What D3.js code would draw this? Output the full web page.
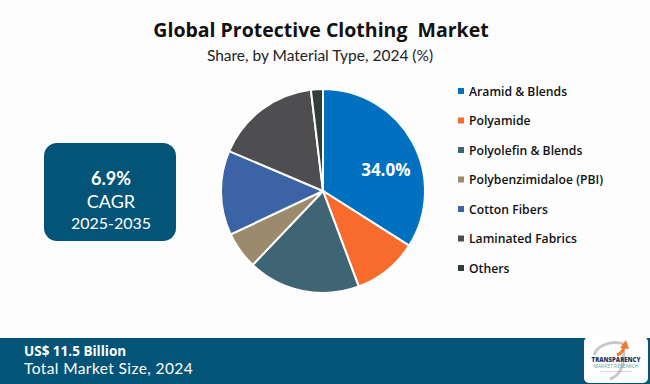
<!DOCTYPE html>
<html>
<head>
<meta charset="utf-8">
<script src="https://cdn.jsdelivr.net/npm/d3@7"></script>
<style>
  body { margin: 0; background: #fdfdfd; }
  svg { display: block; }
</style>
</head>
<body>
<div id="chart"></div>
<script>
// Material types and their 2024 share (%)
var categories = ["Aramid & Blends", "Polyamide", "Polyolefin & Blends", "Polybenzimidaloe (PBI)",
  "Cotton Fibers", "Laminated Fabrics", "Others"];
var shares = [34.0, 10.3, 17.8, 5.9, 13.4, 16.7, 1.9];
var colors = ["#0071c1", "#f86b2c", "#3f6474", "#9b8b6c", "#3c63a6", "#4e4e50", "#343e39"];

var title = "Global Protective Clothing\u00a0 Market";
var subtitle = "Share, by Material Type, 2024  (%)";
var cagrLines = ["6.9%", "CAGR", "2025-2035"];
var footerLines = ["US$ 11.5 Billion", "Total Market Size, 2024"];

var width = 650, height = 384;

var svg = d3.select("#chart").append("svg")
  .attr("width", width)
  .attr("height", height);

svg.append("rect")
  .attr("width", width)
  .attr("height", height)
  .attr("fill", "#fdfdfd");

// Titles
svg.append("text")
  .attr("x", 321)
  .attr("y", 37)
  .attr("text-anchor", "middle")
  .style("font-family", "'Open Sans', sans-serif")
  .style("font-weight", "700")
  .style("font-size", "19.5px")
  .attr("fill", "#111")
  .text(title);

svg.append("text")
  .attr("x", 320)
  .attr("y", 61)
  .attr("text-anchor", "middle")
  .style("font-family", "Lato, sans-serif")
  .style("font-size", "15.5px")
  .attr("fill", "#222")
  .text(subtitle);

// Pie
var cx = 323, cy = 191, radius = 102;

var pieData = categories.map(function(c, i) {
  return { name: c, value: shares[i], color: colors[i] };
});

var pie = d3.pie()
  .sort(null)
  .value(function(d) { return d.value; });

var arc = d3.arc()
  .innerRadius(0)
  .outerRadius(radius);

var labelArc = d3.arc()
  .innerRadius(66)
  .outerRadius(66);

var pieGroup = svg.append("g")
  .attr("transform", "translate(" + cx + "," + cy + ")");

var arcs = pie(pieData);

pieGroup.selectAll("path")
  .data(arcs)
  .enter()
  .append("path")
  .attr("d", arc)
  .attr("fill", function(d) { return d.data.color; })
  .attr("stroke", "#fff")
  .attr("stroke-width", 2);

// Only the largest slice gets a label
pieGroup.selectAll(".slice-label")
  .data(arcs.filter(function(d) { return d.data.value >= 30; }))
  .enter()
  .append("text")
  .attr("class", "slice-label")
  .attr("transform", function(d) {
    var c = labelArc.centroid(d);
    return "translate(" + (c[0] + 5) + "," + (c[1] + 17) + ")";
  })
  .attr("text-anchor", "middle")
  .style("font-family", "'Open Sans', sans-serif")
  .style("font-weight", "700")
  .style("font-size", "17px")
  .attr("fill", "#fff")
  .text(function(d) { return d.data.value.toFixed(1) + "%"; });

// Legend
var legend = svg.append("g")
  .attr("transform", "translate(458,0)");

var legendY = d3.scalePoint()
  .domain(categories)
  .range([91, 268]);

var rows = legend.selectAll(".legend-row")
  .data(pieData)
  .enter()
  .append("g")
  .attr("class", "legend-row")
  .attr("transform", function(d) { return "translate(0," + legendY(d.name) + ")"; });

rows.append("rect")
  .attr("x", 0)
  .attr("y", -3)
  .attr("width", 6)
  .attr("height", 6)
  .attr("fill", function(d) { return d.color; });

rows.append("text")
  .attr("x", 11)
  .attr("y", 4.5)
  .style("font-family", "'Open Sans', sans-serif")
  .style("font-weight", "600")
  .style("font-size", "12.2px")
  .attr("fill", "#111")
  .text(function(d) { return d.name; });

// CAGR box
svg.append("rect")
  .attr("x", 44)
  .attr("y", 143)
  .attr("width", 132)
  .attr("height", 98)
  .attr("rx", 13)
  .attr("fill", "#045477");

var cagrY = [185, 208, 229];
var cagrSize = [18, 18, 16];
svg.selectAll(".cagr")
  .data(cagrLines)
  .enter()
  .append("text")
  .attr("class", "cagr")
  .attr("x", 111)
  .attr("y", function(d, i) { return cagrY[i]; })
  .attr("text-anchor", "middle")
  .style("font-family", "Lato, sans-serif")
  .style("font-weight", function(d, i) { return i === 0 ? "700" : "400"; })
  .style("font-size", function(d, i) { return cagrSize[i] + "px"; })
  .attr("fill", "#fff")
  .text(function(d) { return d; });

// Footer band
svg.append("rect")
  .attr("x", 0)
  .attr("y", 338)
  .attr("width", width)
  .attr("height", height - 338)
  .attr("fill", "#045477");

svg.append("text")
  .attr("x", 24)
  .attr("y", 356)
  .style("font-family", "'Open Sans', sans-serif")
  .style("font-weight", "700")
  .style("font-size", "13.5px")
  .attr("fill", "#fff")
  .text(footerLines[0]);

svg.append("text")
  .attr("x", 24)
  .attr("y", 374)
  .style("font-family", "Lato, sans-serif")
  .style("font-size", "15.5px")
  .style("letter-spacing", "0.4px")
  .attr("fill", "#fff")
  .text(footerLines[1]);

// Logo
var logo = svg.append("g")
  .attr("transform", "translate(584,337)");

logo.append("rect")
  .attr("width", 64)
  .attr("height", 46)
  .attr("rx", 5)
  .attr("fill", "#fff");

logo.append("path")
  .attr("d", "M10,18 C14,6 32,3 42,8")
  .attr("fill", "none")
  .attr("stroke", "#c8c8c8")
  .attr("stroke-width", 3);

logo.append("path")
  .attr("d", "M26,42 C38,38 40,26 40,12")
  .attr("fill", "none")
  .attr("stroke", "#c8c8c8")
  .attr("stroke-width", 3);

logo.append("path")
  .attr("d", "M33,18 C38,16 40,12 40,9")
  .attr("fill", "none")
  .attr("stroke", "#f07a32")
  .attr("stroke-width", 3);

logo.append("path")
  .attr("d", "M36,11 L42,3 L45,12 Z")
  .attr("fill", "#f07a32");

logo.append("text")
  .attr("x", 32)
  .attr("y", 25)
  .attr("text-anchor", "middle")
  .style("font-family", "'Open Sans', sans-serif")
  .style("font-weight", "800")
  .style("font-size", "6px")
  .attr("fill", "#1d3557")
  .text("TRANSPARENCY");

logo.append("text")
  .attr("x", 32)
  .attr("y", 31)
  .attr("text-anchor", "middle")
  .style("font-family", "'Open Sans', sans-serif")
  .style("font-size", "5px")
  .attr("fill", "#5aa9a0")
  .text("MARKET RESEARCH");

logo.append("text")
  .attr("x", 32)
  .attr("y", 35)
  .attr("text-anchor", "middle")
  .style("font-family", "'Open Sans', sans-serif")
  .style("font-size", "2.5px")
  .attr("fill", "#999")
  .text("TRANSFORMING DECISIONS");
</script>
</body>
</html>
